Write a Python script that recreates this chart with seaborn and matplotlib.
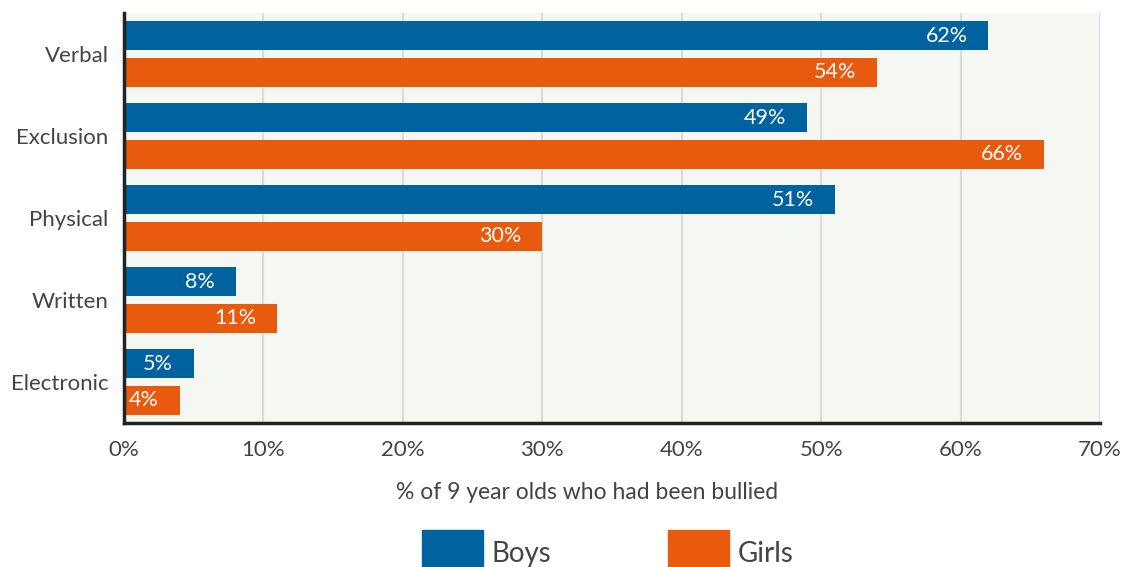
import pandas as pd
import matplotlib.pyplot as plt
import seaborn as sns

# Bullying types and share of 9 year olds, by sex
categories = ["Verbal", "Exclusion", "Physical", "Written", "Electronic"]
boys = [62, 49, 51, 8, 5]
girls = [54, 66, 30, 11, 4]
groups = ["Boys", "Girls"]
x_ticks = [0, 10, 20, 30, 40, 50, 60, 70]
x_label = "% of 9 year olds who had been bullied"

BLUE = "#00629f"
ORANGE = "#e85a0d"
TEXT = "#444444"

df = pd.DataFrame({
    "type": categories * 2,
    "pct": boys + girls,
    "sex": ["Boys"] * len(categories) + ["Girls"] * len(categories),
})

sns.set_style("white")
plt.rcParams["font.family"] = ["Lato", "DejaVu Sans"]

fig = plt.figure(figsize=(11.24, 5.67), dpi=100)
ax = fig.add_axes([124 / 1124, 1 - 423 / 567, (1100 - 124) / 1124, (423 - 13) / 567])
ax.set_facecolor("#f5f8f2")

sns.barplot(data=df, x="pct", y="type", hue="sex", order=categories, hue_order=groups,
            palette=[BLUE, ORANGE], orient="h", width=0.9, gap=0.19,
            saturation=1, linewidth=0, ax=ax, legend=False)

# value labels inside the bar ends
for container in ax.containers:
    for bar in container:
        w = bar.get_width()
        ax.annotate(f"{w:.0f}%", (w, bar.get_y() + bar.get_height() / 2),
                    xytext=(-15, 0), textcoords="offset points",
                    ha="right", va="center", color="white", fontsize=15.5)

ax.set_xlim(0, 70)
ax.set_xticks(x_ticks)
ax.set_xticklabels([f"{t}%" for t in x_ticks])
ax.set_ylim(len(categories) - 0.5, -0.5)
ax.grid(axis="x", color="#dcdcd8", linewidth=1.5)
ax.set_axisbelow(True)
ax.tick_params(axis="both", length=0, labelsize=16, labelcolor=TEXT)
ax.tick_params(axis="x", pad=12)
ax.tick_params(axis="y", pad=11)
ax.set_xlabel(x_label, fontsize=16.5, color=TEXT)
ax.xaxis.set_label_coords(463 / 976, -0.145)
ax.set_ylabel("")

for side in ["top", "right"]:
    ax.spines[side].set_visible(False)
for side in ["left", "bottom"]:
    ax.spines[side].set_color("#222222")
    ax.spines[side].set_linewidth(2.5)

handles = [plt.Rectangle((0, 0), 1, 1, color=c) for c in [BLUE, ORANGE]]
leg = fig.legend(handles, groups, loc="upper left", bbox_to_anchor=(422 / 1124, 1 - 530 / 567),
                 ncol=2, frameon=False, fontsize=20, handlelength=2.2, handleheight=2.2,
                 handletextpad=0.3, columnspacing=4.2, borderpad=0, borderaxespad=0)
for t in leg.get_texts():
    t.set_color(TEXT)

fig.savefig("out.png", dpi=100)
